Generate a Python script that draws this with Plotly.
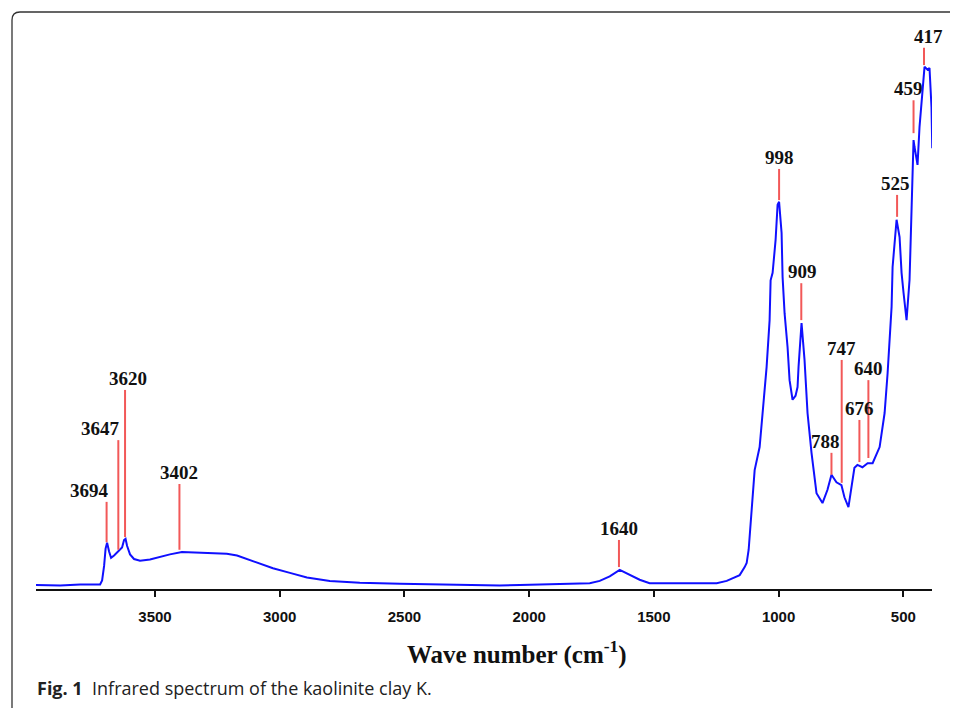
import plotly.graph_objects as go

# ---- data ----
wavenumber = [3977, 3880, 3800, 3720, 3712, 3704, 3698, 3692, 3684, 3676, 3664, 3652, 3644,
              3632, 3624, 3618, 3612, 3600, 3584, 3560, 3520, 3480, 3440, 3392, 3320, 3260,
              3212, 3171, 3131, 3079, 3027, 2959, 2891, 2799, 2679, 2518, 2318, 2118, 2037,
              1877, 1757, 1717, 1677, 1637, 1597, 1557, 1517, 1316, 1248, 1208, 1176, 1156,
              1136, 1128, 1120, 1112, 1104, 1096, 1076, 1064, 1048, 1036, 1032, 1024, 1012,
              1004, 998, 988, 984, 976, 964, 956, 944, 932, 924, 920, 908, 896, 884, 868,
              848, 824, 804, 788, 768, 748, 736, 720, 704, 696, 684, 664, 643, 623, 595,
              575, 563, 547, 543, 527, 515, 507, 499, 487, 475, 467, 463, 459, 455, 443,
              435, 423, 415, 403, 395, 387, 384]
absorbance = [0.7, 0.6, 0.8, 0.8, 1.5, 4.0, 7.0, 8.0, 6.5, 5.4, 5.8, 6.3, 6.6,
              7.2, 8.5, 8.7, 7.5, 6.0, 5.2, 4.9, 5.1, 5.6, 6.0, 6.4, 6.3, 6.2,
              6.1, 5.8, 5.2, 4.4, 3.6, 2.8, 2.0, 1.4, 1.1, 0.9, 0.8, 0.6, 0.7,
              0.8, 1.0, 1.4, 2.2, 3.3, 2.4, 1.6, 1.0, 1.0, 1.0, 1.4, 2.0, 2.4,
              3.8, 4.5, 6.8, 12.0, 16.0, 20.6, 24.6, 30.5, 38.5, 46.6, 53.5, 54.8, 60.5,
              66.6, 67.1, 61.7, 54.1, 47.8, 41.9, 36.2, 32.8, 33.5, 35.0, 38.5, 46.1, 39.7, 30.5, 23.6,
              16.6, 14.9, 17.2, 19.8, 18.5, 18.0, 15.9, 14.2, 18.9, 21.0, 21.5, 21.1, 21.8, 21.8, 24.6,
              30.5, 37.4, 48.9, 55.8, 64.0, 61.0, 54.8, 51.3, 46.6, 53.6, 65.7, 76.1, 77.8, 76.6, 73.5,
              80.1, 87.0, 90.5, 90.0, 90.3, 83.5, 76.4]

peak_labels = ["3694", "3647", "3620", "3402", "1640", "998", "909", "788", "747", "676", "640", "525", "459", "417"]
peak_positions = [3694, 3647, 3620, 3402, 1640, 998, 909, 788, 747, 676, 640, 525, 459, 417]
marker_bottom = [8.1, 6.8, 9.0, 6.8, 3.8, 67.4, 46.6, 19.8, 18.4, 22.0, 22.7, 64.5, 79.0, 90.8]
marker_top = [15.1, 25.8, 34.5, 18.2, 8.5, 72.8, 53.0, 23.6, 39.7, 29.3, 36.2, 68.3, 84.7, 93.8]
label_xshift = [-17, -18, 3, 0, 0, 0, 1, -6, 0, 0, 0, -2, -5, 4]

tick_values = [3500, 3000, 2500, 2000, 1500, 1000, 500]
tick_text = ["3500", "3000", "2500", "2000", "1500", "1000", "500"]

# ---- layout geometry (window pixels; the page body adds an 8px margin) ----
OFF = 8
W, H = 958 - OFF, 708 - OFF
plot_left, plot_right, plot_top, plot_bottom = 36, 932, 12, 589
L = plot_left - OFF
R = W - (plot_right - OFF)
T = plot_top - OFF
B = H - (plot_bottom - OFF)
PW, PH = W - L - R, H - T - B


def px(x):
    return (x - OFF - L) / PW


def py(y):
    return (H - B - (y - OFF)) / PH


fig = go.Figure()
fig.add_trace(go.Scatter(x=wavenumber, y=absorbance, mode="lines",
                         line=dict(color="#1010ff", width=2), hoverinfo="skip",
                         showlegend=False))

shapes = []
annotations = []
for lab, xv, y0, y1, xs in zip(peak_labels, peak_positions, marker_bottom, marker_top, label_xshift):
    shapes.append(dict(type="line", xref="x", yref="y", x0=xv, x1=xv, y0=y0, y1=y1,
                       line=dict(color="#f25858", width=2)))
    annotations.append(dict(x=xv, y=y1, xref="x", yref="y", text="<b>" + lab + "</b>",
                            showarrow=False, yanchor="bottom", xanchor="center",
                            xshift=xs, yshift=-1,
                            font=dict(family="Liberation Serif", size=19, color="#111")))

# rounded frame (open to the right and bottom)
r = 8
path = (f"M {px(12)},{py(720)} L {px(12)},{py(12 + r)} "
        f"Q {px(12)},{py(12)} {px(12 + r)},{py(12)} L {px(970)},{py(12)}")
shapes.append(dict(type="path", xref="paper", yref="paper", path=path,
                   line=dict(color="#333", width=1.3)))

annotations.append(dict(x=px(517), y=py(652), xref="paper", yref="paper",
                        text="<b>Wave number (cm<sup>-1</sup>)</b>", showarrow=False,
                        xanchor="center", yanchor="middle",
                        font=dict(family="Liberation Serif", size=25, color="#111")))
annotations.append(dict(x=px(35), y=py(688), xref="paper", yref="paper",
                        text="<b>Fig. 1</b>  Infrared spectrum of the kaolinite clay K.",
                        showarrow=False, xanchor="left", yanchor="middle",
                        font=dict(family="Open Sans", size=18, color="#222")))

fig.update_layout(
    width=W, height=H,
    margin=dict(l=L, r=R, t=T, b=B),
    paper_bgcolor="white", plot_bgcolor="white",
    shapes=shapes, annotations=annotations,
    xaxis=dict(range=[3977, 385], showgrid=False, zeroline=False,
               showline=True, linecolor="#111", linewidth=2,
               ticks="outside", ticklen=6, tickwidth=1.5, tickcolor="#111",
               tickvals=tick_values, ticktext=tick_text,
               tickfont=dict(family="Liberation Sans", size=15, color="#111", weight="bold"),
               ticklabelstandoff=7),
    yaxis=dict(range=[0, 100], visible=False),
)

fig.write_html("out.html")
